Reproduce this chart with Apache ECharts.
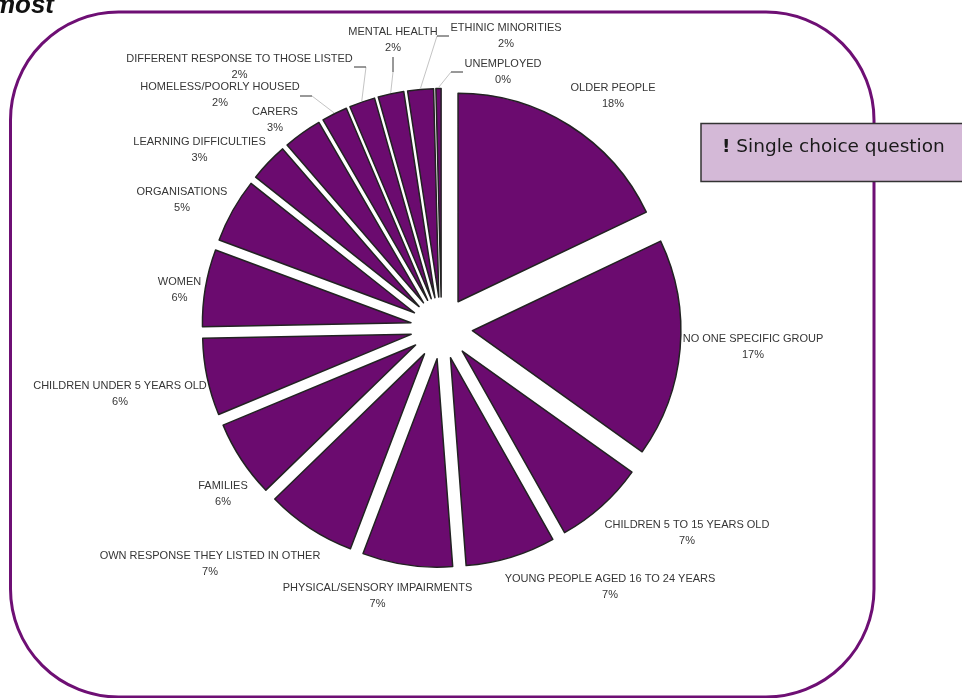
<!DOCTYPE html>
<html>
<head>
<meta charset="utf-8">
<script src="https://cdn.jsdelivr.net/npm/echarts@6/dist/echarts.min.js"></script>
<style>
  html, body { margin: 0; padding: 0; background: #ffffff; overflow: hidden; }
  #chart { width: 962px; height: 698px; }
</style>
</head>
<body>
<div id="chart"></div>
<script>
// Target groups, clockwise from 12 o'clock
const groups = [
  'OLDER PEOPLE',
  'NO ONE SPECIFIC GROUP',
  'CHILDREN 5 TO 15 YEARS OLD',
  'YOUNG PEOPLE AGED 16 TO 24 YEARS',
  'PHYSICAL/SENSORY IMPAIRMENTS',
  'OWN RESPONSE THEY LISTED IN OTHER',
  'FAMILIES',
  'CHILDREN UNDER 5 YEARS OLD',
  'WOMEN',
  'ORGANISATIONS',
  'LEARNING DIFFICULTIES',
  'CARERS',
  'HOMELESS/POORLY HOUSED',
  'DIFFERENT RESPONSE TO THOSE LISTED',
  'MENTAL HEALTH',
  'ETHINIC MINORITIES',
  'UNEMPLOYED'
];

// Share of responses (%), same order as groups
const shares = [18, 17, 7, 7, 7, 7, 6, 6, 6, 5, 3, 3, 2, 2, 2, 2, 0.4];

// Pie geometry
const PIE_CX = 441.5, PIE_CY = 328, PIE_R = 208.5, EXPLODE = 31;

// Label block centres (x, y), same order as groups
const labelSpots = [
  [613, 96], [753, 346.5], [687, 533], [610, 586.5], [377.5, 596],
  [210, 564], [223, 494], [120, 394], [179.5, 290], [182, 200],
  [199.5, 150], [275, 120], [220, 95], [239.5, 66.5], [393, 40],
  [506, 36], [503, 71.5]
];

// Leader lines for the crowded labels: elbow point and end next to the label
const leaderBends = {
  'HOMELESS/POORLY HOUSED': [[312, 96], [300, 96]],
  'DIFFERENT RESPONSE TO THOSE LISTED': [[366, 67], [354, 67]],
  'MENTAL HEALTH': [[393, 72], [393, 57]],
  'ETHINIC MINORITIES': [[437, 36], [449, 36]],
  'UNEMPLOYED': [[451, 72], [463, 72]]
};

const total = shares.reduce((a, b) => a + b, 0);

// Point just outside an exploded slice's arc, on its bisector
function arcPoint(i, pad) {
  let before = 0;
  for (let k = 0; k < i; k++) before += shares[k];
  const mid = (before + shares[i] / 2) / total * Math.PI * 2;
  const r = PIE_R + EXPLODE + pad;
  return [PIE_CX + r * Math.sin(mid), PIE_CY - r * Math.cos(mid)];
}

const sliceColor = '#6b0b6f';
const sliceBorder = '#222222';
const labelFont = '11px "Liberation Sans", Arial, sans-serif';

// Category labels and their leader lines
const labelGraphics = [];
groups.forEach((g, i) => {
  const spot = labelSpots[i];
  labelGraphics.push({
    type: 'text',
    z: 6,
    x: spot[0],
    y: spot[1],
    style: {
      text: g + '\n' + Math.round(shares[i]) + '%',
      align: 'center', textAlign: 'center',
      verticalAlign: 'middle', textVerticalAlign: 'middle',
      font: labelFont,
      lineHeight: 16,
      fill: '#363636'
    }
  });
  const bend = leaderBends[g];
  if (bend) {
    const start = arcPoint(i, 1);
    labelGraphics.push({
      type: 'polyline',
      z: 5,
      shape: { points: [start, bend[0]] },
      style: { stroke: '#c4c4c4', lineWidth: 1, fill: null }
    });
    labelGraphics.push({
      type: 'polyline',
      z: 5,
      shape: { points: [bend[0], bend[1]] },
      style: { stroke: '#333333', lineWidth: 1, fill: null }
    });
  }
});

const chart = echarts.init(document.getElementById('chart'), null, { renderer: 'canvas' });

chart.setOption({
  backgroundColor: '#ffffff',
  animation: false,
  graphic: [
    {
      type: 'rect',
      z: 0,
      shape: { x: 10.5, y: 12, width: 863.5, height: 685, r: 108 },
      style: { fill: 'none', stroke: '#6e0f74', lineWidth: 3 }
    },
    {
      type: 'text',
      z: 5,
      x: 54,
      y: 6,
      style: {
        text: 'most',
        align: 'right', textAlign: 'right',
        verticalAlign: 'middle', textVerticalAlign: 'middle',
        font: 'italic bold 26px "Liberation Sans", Arial, sans-serif',
        fill: '#111111'
      }
    },
    {
      type: 'rect',
      z: 10,
      shape: { x: 701, y: 123.5, width: 270, height: 58 },
      style: { fill: '#d4b9d7', stroke: '#333333', lineWidth: 1.5 }
    },
    {
      type: 'text',
      z: 11,
      x: 722,
      y: 147,
      style: {
        text: '{b|!} Single choice question',
        align: 'left', textAlign: 'left',
        verticalAlign: 'middle', textVerticalAlign: 'middle',
        font: '18.5px "DejaVu Sans", sans-serif',
        fill: '#1a1a1a',
        rich: {
          b: { fontWeight: 'bold', fontSize: 18.5, fontFamily: 'DejaVu Sans', fill: '#1a1a1a', color: '#1a1a1a' }
        }
      }
    }
  ].concat(labelGraphics),
  series: [
    {
      type: 'pie',
      center: [PIE_CX, PIE_CY],
      radius: PIE_R,
      startAngle: 90,
      clockwise: true,
      selectedMode: 'multiple',
      selectedOffset: EXPLODE,
      avoidLabelOverlap: false,
      silent: true,
      itemStyle: { color: sliceColor, borderColor: sliceBorder, borderWidth: 1.5 },
      select: { itemStyle: { color: sliceColor, borderColor: sliceBorder, borderWidth: 1.5 } },
      label: { show: false },
      labelLine: { show: false },
      data: groups.map((g, i) => ({
        name: g,
        value: shares[i],
        selected: true
      }))
    }
  ]
});
</script>
</body>
</html>
